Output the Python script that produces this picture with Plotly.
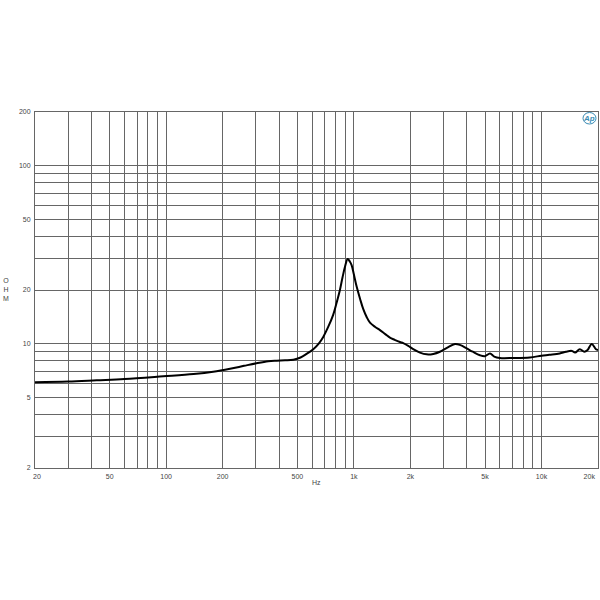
import math
import plotly.graph_objects as go

# Data (frequency in Hz, impedance in ohm)
freq = [20, 30, 42.6, 60, 96.5, 140, 178, 219, 260, 303, 350, 388, 430, 476, 520, 560,
        608, 650, 687, 730, 776, 810, 843, 870, 897, 927, 950, 973, 1000, 1035, 1080,
        1123, 1170, 1219, 1300, 1378, 1470, 1557, 1650, 1761, 1833, 1950, 2071, 2250,
        2443, 2650, 2876, 3150, 3459, 3700, 3990, 4300, 4699, 5000, 5313, 5600, 6000,
        7064, 8670, 10000, 11000, 12500, 13500, 14500, 15100, 16000, 16900, 17600,
        18500, 19500, 20000]
ohm = [6.06, 6.12, 6.22, 6.32, 6.55, 6.75, 6.95, 7.22, 7.5, 7.75, 7.95, 8.01, 8.05, 8.12,
       8.35, 8.75, 9.3, 10.0, 10.9, 12.4, 14.5, 17.0, 20.0, 23.5, 27.0, 29.9, 29.0, 27.6,
       24.5, 20.9, 17.8, 15.6, 14.1, 13.1, 12.4, 11.9, 11.3, 10.8, 10.5, 10.2, 10.05, 9.7,
       9.3, 8.9, 8.7, 8.75, 9.0, 9.5, 9.95, 9.8, 9.4, 9.0, 8.6, 8.5, 8.8, 8.45, 8.3, 8.3,
       8.36, 8.55, 8.65, 8.8, 9.0, 9.1, 8.9, 9.3, 9.0, 9.2, 9.95, 9.3, 9.2]

x_grid = [20, 30, 40, 50, 60, 70, 80, 90, 100, 200, 300, 400, 500, 600, 700, 800, 900,
          1000, 2000, 3000, 4000, 5000, 6000, 7000, 8000, 9000, 10000, 20000]
x_labels = {20: "\u00a0\u00a020", 50: "50", 100: "100", 200: "200", 500: "500", 1000: "1k",
            2000: "2k", 5000: "5k", 10000: "10k",
            20000: "20k" + "\u00a0" * 9}
y_grid = [2, 3, 4, 5, 6, 7, 8, 9, 10, 20, 30, 40, 50, 60, 70, 80, 90, 100, 200]
y_labels = {2: "2", 5: "5", 10: "10", 20: "20", 50: "50", 100: "100", 200: "200"}

fig = go.Figure()
fig.add_trace(go.Scatter(x=freq, y=ohm, mode="lines",
                         line=dict(color="black", width=2, shape="spline", smoothing=1.0),
                         hoverinfo="skip"))

eps = 1e-6
font = dict(family="Liberation Sans, Arial", size=7, color="#444444")
common = dict(type="log", showgrid=True, gridcolor="#666666", gridwidth=1,
              showline=True, linecolor="#666666", linewidth=1, mirror=True,
              ticks="", tickfont=font, zeroline=False, automargin=False,
              ticklabelstandoff=2, ticklabeloverflow="allow")
fig.update_layout(
    width=600, height=600,
    margin=dict(l=35, r=2, t=112, b=132),
    paper_bgcolor="white", plot_bgcolor="white",
    showlegend=False,
    xaxis=dict(range=[math.log10(20) - eps, math.log10(20000) + eps], tickvals=x_grid,
               ticktext=[x_labels.get(v, "") for v in x_grid], **common),
    yaxis=dict(range=[math.log10(2) - eps, math.log10(200) + eps], tickvals=y_grid,
               ticktext=[y_labels.get(v, "") for v in y_grid], **common),
    annotations=[
        dict(text="Hz", xref="paper", yref="paper", x=(316 - 35) / 563, y=-(482 - 468) / 356,
             showarrow=False, font=font, xanchor="center", yanchor="middle"),
        dict(text="O<br>H<br>M", xref="paper", yref="paper", x=-(35 - 6) / 563,
             y=(468 - 289) / 356, showarrow=False, font=font,
             xanchor="center", yanchor="middle"),
        dict(text="<i><b>Ap</b></i>", xref="paper", yref="paper", x=(589 - 35) / 563,
             y=(468 - 118) / 356, showarrow=False,
             font=dict(family="Liberation Sans, Arial", size=8, color="#3b8db5"),
             xanchor="center", yanchor="middle"),
    ],
    shapes=[
        dict(type="circle", xref="paper", yref="paper",
             x0=(583 - 35) / 563, x1=(596 - 35) / 563,
             y0=(468 - 124) / 356, y1=(468 - 112.5) / 356,
             line=dict(color="#3b8db5", width=1)),
    ],
)

fig.write_html("out.html", config={"displayModeBar": False},
               post_script="document.body.style.margin='0';")
